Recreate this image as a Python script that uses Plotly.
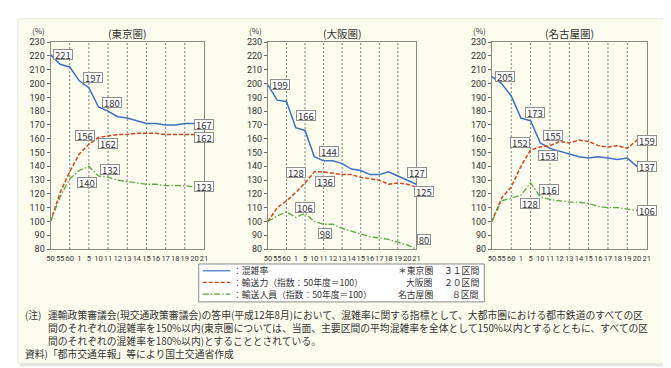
import plotly.graph_objects as go

# ---------------- data ----------------
categories = ["50", "55", "60", "1", "5", "10", "11", "12", "13", "14",
              "15", "16", "17", "18", "19", "20", "21"]

tokyo_congestion = [221, 214, 212, 202, 197, 183, 180, 176, 175, 173, 171, 171, 170, 170, 171, 171, 167]
tokyo_capacity   = [100, 121, 136, 149, 156, 161, 162, 163, 163, 164, 164, 164, 163, 163, 163, 163, 162]
tokyo_passengers = [100, 118, 131, 137, 140, 133, 132, 130, 129, 128, 127, 127, 126, 126, 126, 125, 123]

osaka_congestion = [199, 188, 187, 168, 166, 147, 144, 144, 142, 138, 137, 134, 134, 136, 133, 130, 127]
osaka_capacity   = [100, 110, 115, 121, 128, 136, 136, 135, 134, 134, 132, 131, 130, 127, 128, 127, 125]
osaka_passengers = [100, 104, 107, 103, 106, 100, 98, 98, 95, 93, 91, 89, 88, 87, 85, 83, 80]

nagoya_congestion = [205, 200, 191, 175, 173, 157, 153, 151, 149, 147, 146, 147, 146, 145, 146, 140, 137]
nagoya_capacity   = [100, 117, 125, 140, 152, 154, 155, 158, 157, 159, 158, 155, 154, 155, 153, 159, 159]
nagoya_passengers = [100, 115, 117, 119, 128, 118, 116, 115, 114, 114, 113, 111, 110, 110, 109, 108, 106]

panel_titles = ["(東京圏)", "(大阪圏)", "(名古屋圏)"]
series_names = ["：混雑率", "：輸送力（指数：50年度＝100）", "：輸送人員（指数：50年度＝100）"]
area_names = ["＊東京圏", "大阪圏", "名古屋圏"]
area_sections = ["３１区間", "２０区間", "８区間"]
y_ticks = list(range(80, 231, 10))

note_head = "(注)"
note_lines = [
    "運輸政策審議会(現交通政策審議会)の答申(平成12年8月)において、混雑率に関する指標として、大都市圏における都市鉄道のすべての区",
    "間のそれぞれの混雑率を150%以内(東京圏については、当面、主要区間の平均混雑率を全体として150%以内とするとともに、すべての区",
    "間のそれぞれの混雑率を180%以内)とすることとされている。",
]
source_line = "資料)「都市交通年報」等により国土交通省作成"

# ---------------- styling / layout ----------------
W, H = 671, 368
FONT = "Noto Sans CJK JP, sans-serif"
NUMFONT = "Liberation Sans Narrow, Roboto, Noto Sans CJK JP, sans-serif"
TXT = "#333333"
CREAM = "#fdfdef"

def px(x):
    return x / W

def py(y):
    return 1 - y / H

styles = [
    dict(color="#3d6fc3", dash="solid", width=1.5),
    dict(color="#d8421b", dash="4px,2px", width=1.5),
    dict(color="#5aa83c", dash="6px,2px,1.5px,2px", width=1.3),
]

PLOT_TOP, PLOT_BOT = 30, 242.7
panels = [
    dict(series=(tokyo_congestion, tokyo_capacity, tokyo_passengers), left=39, right=194.3,
         labels=[(0, 0, 12, 0), (0, 4, 4, 10.5), (0, 6, 3.5, 9), (0, 16, 0, 4.5),
                 (1, 4, -4, 8.7), (1, 6, 0, -8), (1, 16, 0, -2),
                 (2, 4, -2, -16), (2, 6, 2, 7.7), (2, 16, 0, 3)]),
    dict(series=(osaka_congestion, osaka_capacity, osaka_passengers), left=259, right=409.3,
         labels=[(0, 0, 12, 0), (0, 4, 1, 14.6), (0, 6, 5, 9), (0, 16, 1, 11.6),
                 (1, 4, -8.6, 10), (1, 6, 1, -9.7), (1, 16, 8, -4),
                 (2, 4, 0, 5.8), (2, 6, 1.6, -9), (2, 16, 8, 10)]),
    dict(series=(nagoya_congestion, nagoya_capacity, nagoya_passengers), left=485.7, right=642.3,
         labels=[(0, 0, 12.6, 0), (0, 4, 4, 8.6), (0, 6, -2, -7), (0, 16, 0, 4),
                 (1, 4, -11, 6.8), (1, 6, 3, 10), (1, 16, 0, 0),
                 (2, 4, -1, -20.7), (2, 6, -0.7, 9.6), (2, 16, 0, 2.5)]),
]

xs = list(range(len(categories)))
annotations = []
shapes = []
fig = go.Figure()

# background card with shadow
shapes.append(dict(type="rect", xref="paper", yref="paper", x0=px(8), x1=px(668), y0=py(363), y1=py(9),
                   fillcolor="#e4e4e0", line=dict(width=0), layer="below"))
shapes.append(dict(type="rect", xref="paper", yref="paper", x0=px(6), x1=px(665), y0=py(360), y1=py(6),
                   fillcolor=CREAM, line=dict(color="#e8e8e0", width=1), layer="below"))


def paper_text(x, y, text, size, xanchor="center"):
    return dict(x=px(x), y=py(y), xref="paper", yref="paper", xanchor=xanchor, yanchor="middle",
                text=text, showarrow=False, font=dict(family=FONT, size=size, color=TXT))


layout_axes = {}
for p_i, p in enumerate(panels):
    n = p_i + 1
    xa = "x" if n == 1 else f"x{n}"
    ya = "y" if n == 1 else f"y{n}"
    for s_i, vals in enumerate(p["series"]):
        st = styles[s_i]
        fig.add_trace(go.Scatter(x=xs, y=vals, mode="lines", xaxis=xa, yaxis=ya, showlegend=False,
                                 line=dict(color=st["color"], dash=st["dash"], width=st["width"]),
                                 hoverinfo="skip"))

    layout_axes[f"xaxis{'' if n == 1 else n}"] = dict(
        domain=[px(p["left"]), px(p["right"])], anchor=ya, range=[0, len(categories) - 1],
        tickmode="array", tickvals=xs, ticktext=categories, tickangle=0,
        showgrid=False, zeroline=False, showline=True, mirror=True, linecolor="#8a8a8a", linewidth=1,
        ticks="", tickfont=dict(family=NUMFONT, size=7.5, color=TXT), ticklabelstandoff=2,
    )
    layout_axes[f"yaxis{'' if n == 1 else n}"] = dict(
        domain=[py(PLOT_BOT), py(PLOT_TOP)], anchor=xa, range=[80, 230],
        tickmode="array", tickvals=y_ticks, showgrid=False, zeroline=False,
        showline=True, mirror=True, linecolor="#8a8a8a", linewidth=1,
        ticks="outside", ticklen=3, tickcolor="#666", tickwidth=1,
        tickfont=dict(family=NUMFONT, size=9, color=TXT),
    )

    # dotted vertical guides every other category
    for gi in range(2, len(categories) - 1, 2):
        shapes.append(dict(type="line", xref=xa, yref=f"{ya} domain", x0=gi, x1=gi, y0=0, y1=1,
                           line=dict(color="#777", width=1, dash="2px,2px"), layer="below"))

    # data labels
    for s_i, ci, dx, dy in p["labels"]:
        v = p["series"][s_i][ci]
        txt = str(v)
        annotations.append(dict(
            x=ci, y=v, xref=xa, yref=ya, text=txt, showarrow=False, xshift=dx, yshift=dy,
            xanchor="center", yanchor="middle",
            font=dict(family=FONT, size=9.5, color=TXT), bgcolor="white",
            bordercolor="#909090", borderwidth=1, borderpad=0,
            width=18 if len(txt) == 3 else 12, height=9,
        ))

    # panel title and unit
    annotations.append(paper_text((p["left"] + p["right"]) / 2, 21, panel_titles[p_i], 10.5))
    annotations.append(paper_text(p["left"] - 12.5, 18, "(%)", 8))

# legend box
shapes.append(dict(type="rect", xref="paper", yref="paper", x0=px(189), x1=px(478), y0=py(297), y1=py(258),
                   fillcolor="white", line=dict(color="#8a8a8a", width=1)))
rows_y = [265, 277, 289]
for r, yy in enumerate(rows_y):
    st = styles[r]
    shapes.append(dict(type="line", xref="paper", yref="paper", x0=px(193), x1=px(221), y0=py(yy), y1=py(yy),
                       line=dict(color=st["color"], dash=st["dash"], width=1.2)))
    annotations.append(paper_text(222, yy, series_names[r], 8.8, "left"))
    annotations.append(paper_text(428, yy, area_names[r], 8.8, "right"))
    annotations.append(paper_text(475, yy, area_sections[r], 8.8, "right"))

# notes
note_y = [310, 323.5, 337]
annotations.append(paper_text(11, note_y[0], note_head, 9.8, "left"))
for t, yy in zip(note_lines, note_y):
    annotations.append(paper_text(34, yy, t, 9.8, "left"))
annotations.append(paper_text(11, 350.5, source_line, 9.8, "left"))

fig.update_layout(
    width=W, height=H, margin=dict(l=0, r=0, t=0, b=0),
    paper_bgcolor="white", plot_bgcolor="white",
    font=dict(family=FONT, color=TXT),
    annotations=annotations, shapes=shapes, showlegend=False,
    **layout_axes,
)

fig.write_html("out.html")
